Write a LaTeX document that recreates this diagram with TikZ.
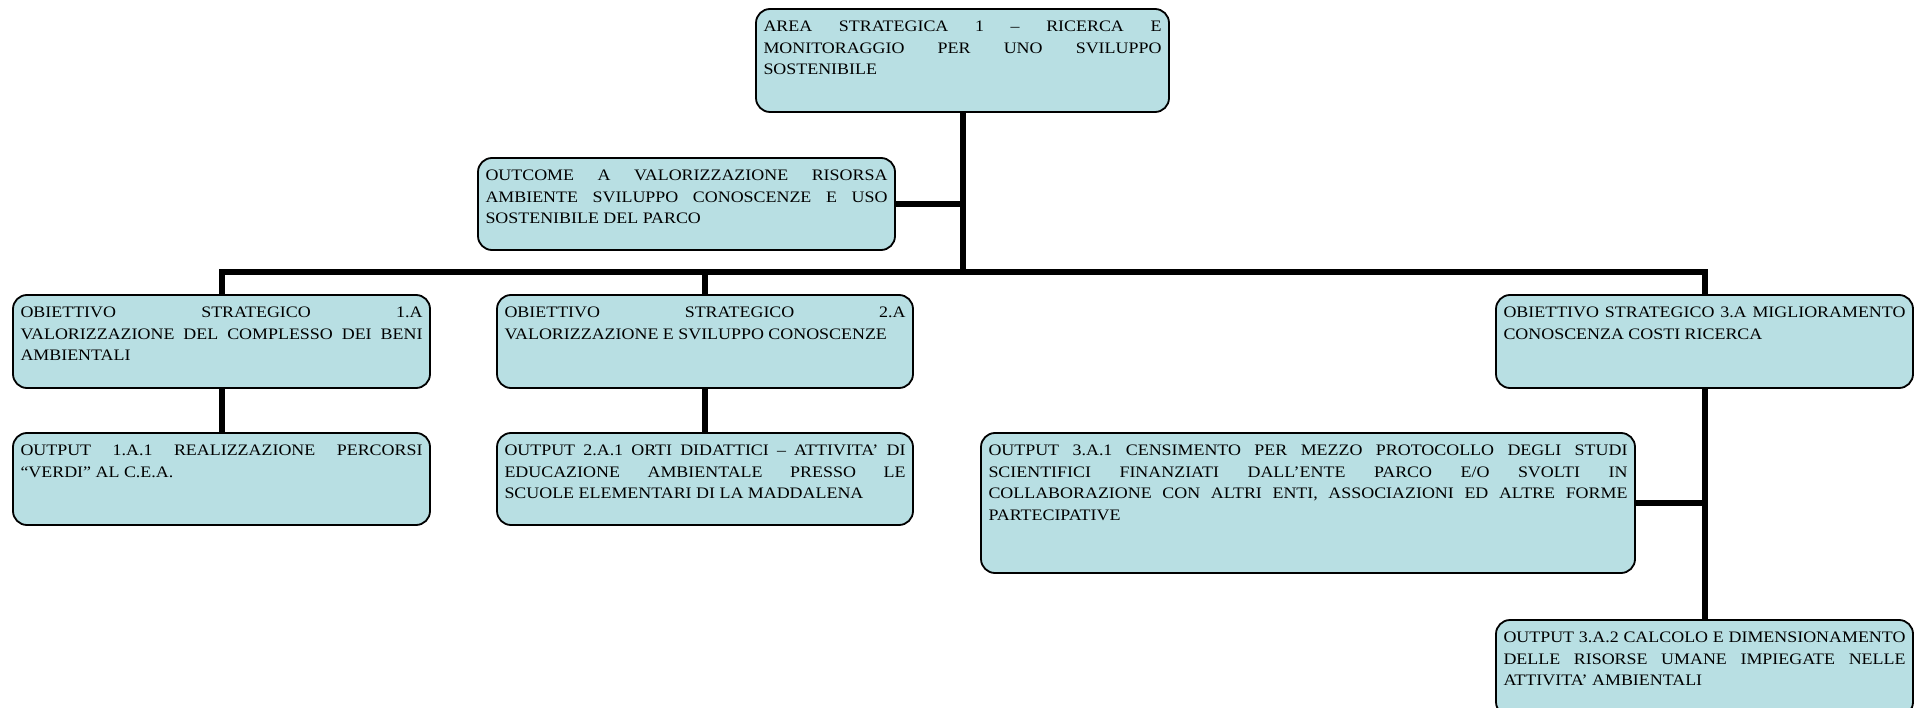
\documentclass[tikz,border=0pt]{standalone}
\usepackage{fontspec}
\setmainfont{Liberation Serif}[FakeStretch=1.12]
\usetikzlibrary{backgrounds}
\definecolor{boxfill}{RGB}{184,223,227}
\tikzset{
  bx/.style={draw=black, line width=1.8pt, fill=boxfill, rounded corners=14pt,
    inner xsep=7.5pt, inner ysep=0pt, outer sep=0pt, shape=rectangle},
  conn/.style={draw=black, line width=6pt, line join=miter}
}
\newcommand\jline[1]{\makebox[\linewidth][s]{#1}\\}
\newcommand\mkbox[6]{%
  \node[bx] (#1) at ({(#2+#4)/2},{-(#3+#5)/2})
  {\parbox[c][\dimexpr #5pt-#3pt\relax][t]{\dimexpr #4pt-#2pt-15pt\relax}{%
   \fontsize{16}{21.5}\selectfont\vspace*{12pt}#6}};}
\begin{document}
\begin{tikzpicture}[x=1pt,y=1pt]
\useasboundingbox (0,0) rectangle (1919,-708);
\clip (0,0) rectangle (1919,-708);
\mkbox{top}{756}{9}{1169}{112}{\jline{AREA STRATEGICA 1 – RICERCA E}\jline{MONITORAGGIO PER UNO SVILUPPO}SOSTENIBILE}
\mkbox{outc}{478}{158}{895}{250}{\jline{OUTCOME A VALORIZZAZIONE RISORSA}\jline{AMBIENTE SVILUPPO CONOSCENZE E USO}SOSTENIBILE DEL PARCO}
\mkbox{obj1}{13}{295}{430}{388}{\jline{OBIETTIVO STRATEGICO 1.A}\jline{VALORIZZAZIONE DEL COMPLESSO DEI BENI}AMBIENTALI}
\mkbox{obj2}{497}{295}{913}{388}{\jline{OBIETTIVO STRATEGICO 2.A}VALORIZZAZIONE E SVILUPPO CONOSCENZE}
\mkbox{obj3}{1496}{295}{1913}{388}{\jline{OBIETTIVO STRATEGICO 3.A MIGLIORAMENTO}CONOSCENZA COSTI RICERCA}
\mkbox{out1}{13}{433}{430}{525}{\jline{OUTPUT 1.A.1 REALIZZAZIONE PERCORSI}“VERDI” AL C.E.A.}
\mkbox{out2}{497}{433}{913}{525}{\jline{OUTPUT 2.A.1 ORTI DIDATTICI – ATTIVITA’ DI}\jline{EDUCAZIONE AMBIENTALE PRESSO LE}SCUOLE ELEMENTARI DI LA MADDALENA}
\mkbox{out31}{981}{433}{1635}{573}{\jline{OUTPUT 3.A.1 CENSIMENTO PER MEZZO PROTOCOLLO DEGLI STUDI}\jline{SCIENTIFICI FINANZIATI DALL’ENTE PARCO E/O SVOLTI IN}\jline{COLLABORAZIONE CON ALTRI ENTI, ASSOCIAZIONI ED ALTRE FORME}PARTECIPATIVE}
\mkbox{out32}{1496}{620}{1913}{716}{\jline{OUTPUT 3.A.2 CALCOLO E DIMENSIONAMENTO}\jline{DELLE RISORSE UMANE IMPIEGATE NELLE}ATTIVITA’ AMBIENTALI}
\coordinate (busy) at (0,-272);
\begin{scope}[on background layer]
\draw[conn] (top.south) -- (top.south |- busy);
\draw[conn] (outc.east) -- (outc.east -| top.south);
\draw[conn] (obj1.north) -- (obj1.north |- busy) -- (obj3.north |- busy) -- (obj3.north);
\draw[conn] (obj2.north |- busy) -- (obj2.north);
\draw[conn] (obj1.south) -- (out1.north);
\draw[conn] (obj2.south) -- (out2.north);
\draw[conn] (obj3.south) -- (out32.north);
\draw[conn] (out31.east) -- (out31.east -| obj3.south);
\end{scope}
\end{tikzpicture}
\end{document}
